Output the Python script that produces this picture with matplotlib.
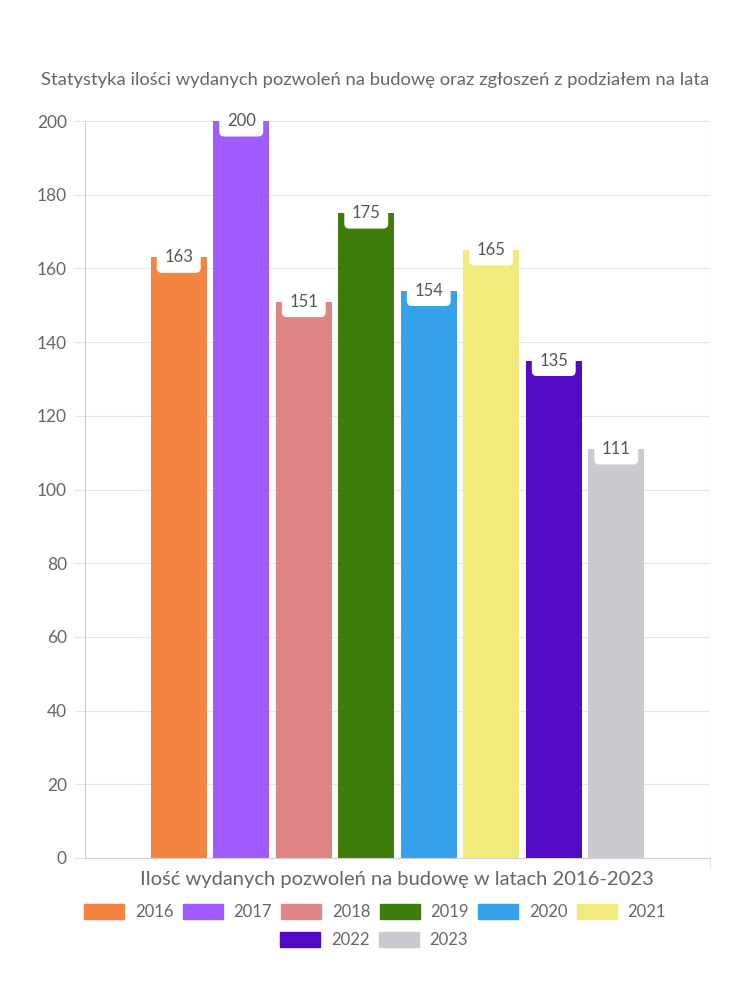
import matplotlib
matplotlib.use("Agg")
from matplotlib import pyplot as plt
import matplotlib.patches as mpatches

plt.rcParams['font.family'] = ['Lato', 'DejaVu Sans']

years = ['2016', '2017', '2018', '2019', '2020', '2021', '2022', '2023']
permits = [163, 200, 151, 175, 154, 165, 135, 111]
colors = ['#f58441', '#a05cff', '#e08585', '#3e7c0c',
          '#36a2eb', '#f0eb7c', '#520ac4', '#c9cbcf']
yticks = list(range(0, 201, 20))

title = 'Statystyka ilości wydanych pozwoleń na budowę oraz zgłoszeń z podziałem na lata'
xlabel = 'Ilość wydanych pozwoleń na budowę w latach 2016-2023'

txt = '#666666'
grid = '#e6e6e6'

fig = plt.figure(figsize=(7.5, 10), dpi=100)
ax = fig.add_axes([85 / 750, 1 - 858 / 1000, 625 / 750, 737 / 1000])

# one category, eight datasets -> 80% of the width split in eight slots
slot = 0.8 / len(years)
for i, (y, v, c) in enumerate(zip(years, permits, colors)):
    x = 0.1 + slot * (i + 0.5)
    ax.bar(x, v, width=slot * 0.9, color=c, label=y, zorder=2)
    ax.text(x, v, str(v), ha='center', va='center', fontsize=12, color='#555555',
            zorder=4, clip_on=False,
            bbox=dict(boxstyle='round,pad=0.45,rounding_size=0.3', fc='white', ec='none'))

ax.set_xlim(0, 1)
ax.set_ylim(0, 200)
ax.set_yticks(yticks)
ax.set_xticks([1.0])
ax.set_xticklabels([''])
ax.tick_params(axis='y', length=8, color=grid, labelsize=12.5, labelcolor=txt, pad=5)
ax.tick_params(axis='x', length=8, color=grid)
ax.grid(axis='y', color=grid, linewidth=0.8, zorder=0)
for side in ['top', 'right']:
    ax.spines[side].set_visible(False)
ax.spines['left'].set_color('#d0d0d0')
ax.spines['bottom'].set_color('#d0d0d0')
ax.axvline(1.0, color=grid, linewidth=0.8, zorder=0)

fig.text(375 / 750, 1 - 80 / 1000, title, ha='center', va='center', fontsize=13.2,
         color=txt)
fig.text(397 / 750, 1 - 880 / 1000, xlabel, ha='center', va='center', fontsize=14.5,
         color=txt)

# legend in two centred rows: six entries, then two
handles = [mpatches.Patch(color=c, label=y) for y, c in zip(years, colors)]
kw = dict(frameon=False, handlelength=2.4, handleheight=1.0,
          handletextpad=0.65, columnspacing=0.55, borderpad=0, borderaxespad=0,
          prop=dict(size=12))
leg1 = fig.legend(handles=handles[:6], ncol=6, loc='center',
                  bbox_to_anchor=(375 / 750, 1 - 912 / 1000), **kw)
leg2 = fig.legend(handles=handles[6:], ncol=2, loc='center',
                  bbox_to_anchor=(374 / 750, 1 - 940 / 1000), **kw)
for leg in (leg1, leg2):
    for t in leg.get_texts():
        t.set_color(txt)

fig.savefig('out.png', dpi=100)
